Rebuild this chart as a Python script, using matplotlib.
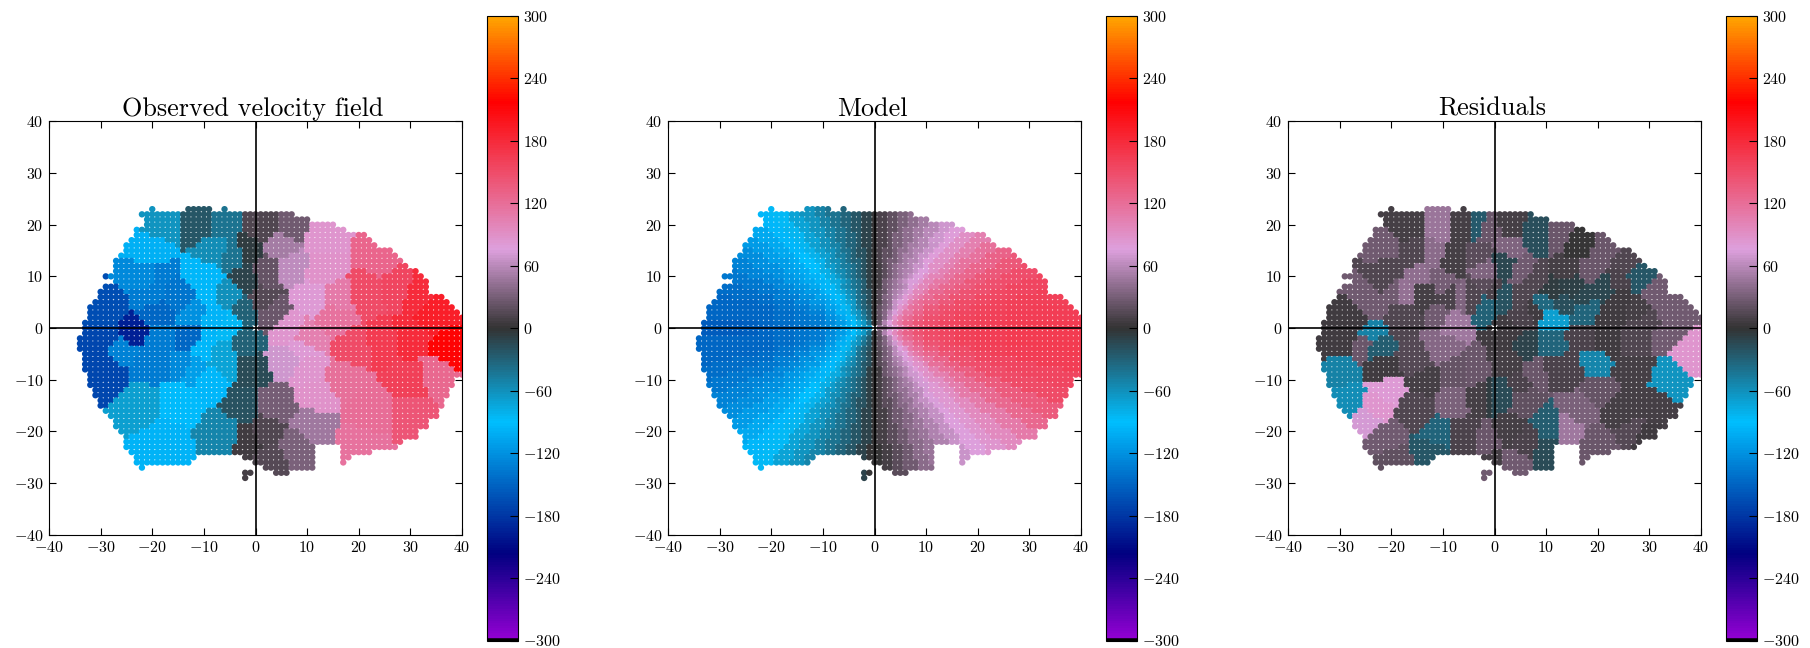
import numpy as np
import matplotlib
matplotlib.use("Agg")
import matplotlib.pyplot as plt
from matplotlib.colors import LinearSegmentedColormap

plt.rcParams['font.family'] = ['cmr10', 'DejaVu Serif']
plt.rcParams['mathtext.fontset'] = 'cm'
plt.rcParams['axes.formatter.use_mathtext'] = True
plt.rcParams['axes.unicode_minus'] = True

FIG_W, FIG_H = 1810, 648
titles = ["Observed velocity field", "Model", "Residuals"]
axis_ticks = [-40, -30, -20, -10, 0, 10, 20, 30, 40]
cbar_ticks = [-300, -240, -180, -120, -60, 0, 60, 120, 180, 240, 300]

# colour scale (velocity, colour)
cmap_vals = [-300, -217, -90, 0, 76, 218, 300]
cmap_cols = ['#9400d3', '#000080', '#00bfff', '#333333', '#dda0dd', '#ff0000', '#ffa500']

# footprint of the spaxels: row y, then the occupied x spans
row_y = list(range(23, -30, -1))
row_spans = [
    [(-20, -20), (-13, -9), (-6, -6)], [(-22, 7)], [(-21, 10)], [(-21, 15)], [(-23, 17)], [(-23, 21)],
    [(-24, 22)], [(-25, 23)], [(-25, 26)], [(-26, 27)], [(-27, 28)], [(-27, 29)], [(-27, 31)],
    [(-29, 32)], [(-27, 33)], [(-29, 33)], [(-30, 33)], [(-30, 36)], [(-31, 37)], [(-32, 38)],
    [(-32, 39)], [(-32, 40)], [(-33, 40)], [(-33, 40)], [(-33, 40)], [(-34, 40)], [(-34, 40)],
    [(-34, 40)], [(-33, 40)], [(-33, 40)], [(-33, 40)], [(-33, 40)], [(-32, 40)], [(-32, 38)],
    [(-32, 38)], [(-31, 37)], [(-31, 37)], [(-30, 36)], [(-30, 36)], [(-29, 35)], [(-28, 35)],
    [(-27, 33)], [(-27, 33)], [(-26, 31)], [(-25, 31)], [(-25, 28)], [(-25, 11), (17, 27)],
    [(-24, 11), (17, 22)], [(-23, -12), (-2, 11), (17, 18)], [(-23, -13), (0, 11), (17, 17)],
    [(-22, -22), (2, 11)], [(-2, -1), (4, 6)], [(-2, -2)],
]

# observed field: bin centre x, bin centre y, bin velocity
obs_x = [-18, -11, -6, 1, 7, 13, 24, 5, 7, 2, 11, 13, 1.5, 3, 16, 21, 28, 31, 35, 38, 30, 15, 6, 10,
         9, 12, 6, 10, 4, 11, 2, 8, 3, 17, 22, 20, 19, 30, 35, 30, 25,
         -29, -29, -22, -15, -18, -12, -20, -14, -10, -9, -6, -6, -1.5, -2, -7, -1, -2, -2,
         -24, -29, -19, -20, -15, -12, -8, -5, -18, -13, -26,
         -8, -4, -1.5, -20, -21, -19, -10, -9, -6, -2, -1.5]
obs_y = [20, 20, 20, 20, 20, 18, 14, 16, 12, 11, 6, 11, 5, 3, 6, 7, 8, 7, 3, -4, -2, 2, 0, -2,
         -4, -13, -6, -8, -15, -19, -20, -23, -26, -10, -16, -23, -4, -10, -9, -16, -3,
         -8, -2, -15, -14, -22, -8, -7, -7, -4, -10, -7, -21, -22, -15, -5, -8, -3, -28,
         -1, 3, 3, 6, 6, 3, 2, 0, -2, -2, -4,
         15, 14, 15, 15, 10, 10, 10, 6, 6, 10, 3]
obs_v = [-62, -22, -42, 12, 28, 85, 128, 50, 62, 22, 80, 88, 15, 25, 110, 150, 155, 180, 190, 215, 180, 115, 85, 105,
         82, 88, 70, 85, 30, 48, 12, 32, 15, 118, 120, 115, 150, 160, 125, 142, 165,
         -170, -170, -70, -92, -98, -112, -135, -125, -95, -95, -72, -52, 5, -20, -72, -15, -30, 8,
         -195, -165, -150, -135, -140, -120, -98, -85, -135, -150, -130,
         -58, -40, -5, -100, -125, -135, -95, -95, -60, -10, -30]

# model field: velocity per azimuth sector, read at the outer disk
azimuth_deg = list(range(-180, 180, 5))
model_outer = [-155, -150, -150, -145, -138, -130, -122, -113, -105, -95, -85, -72, -62, -52, -42, -32, -22, -10,
               0, 8, 18, 28, 38, 46, 56, 66, 76, 85, 95, 110, 125, 138, 150, 157, 162, 165,
               165, 163, 160, 155, 148, 140, 130, 118, 105, 92, 80, 70, 60, 52, 42, 32, 20, 10,
               0, -10, -22, -32, -42, -52, -62, -72, -85, -95, -105, -113, -122, -130, -138, -145, -150, -150]
# share of that velocity reached at each radius band (upper edge, right side, left side)
model_r_edge = [2, 3, 4, 5, 6, 8, 10, 13, 16, 20, 26, 60]
model_r_right = [0.25, 0.40, 0.52, 0.62, 0.70, 0.80, 0.87, 0.92, 0.95, 0.97, 0.99, 1.0]
model_r_left = [0.40, 0.50, 0.56, 0.62, 0.68, 0.76, 0.84, 0.90, 0.93, 0.96, 0.99, 1.0]

# residual field: bin centre x, bin centre y, bin velocity
res_x = [-17, -11, -6, -3.5, -1, -21, -16, -12, -8, -1.5, -3, -22, -20, -24, -17, -20, -15, -26, -24, -24, -29, -18,
         -14, -10, -8, -10, -9, -4, -7, -1.5, -2, -1,
         3, 8, 12, 16, 22, 25, 28, 31, 34, 38, 2, 3, 5, 8, 11, 11, 10, 18, 15, 21, 19, 14, 24, 28, 22, 6, 2, 3, 6, 11, 17, 22, 27, 33,
         19, 34, 27, 15, 16, 14, 25, 20, 31, 27, 29, 20, 11, 6, 10, 6, 1, 3, 5, 8, 12, 3, 4, -2,
         -31, -25, -23, -30, -28, -22, -23, -21, -20, -12, -11, -15, -8, -6, -1, 0, -15, -11, -13, -8, -4, -3, -1,
         -21, -25, 13, 8, 17, 24, 30, 5]
res_y = [20, 20, 20, 20, 19, 16, 14, 14, 13, 11, 14, 9, 7, 4, 7, 11, 10, 2, 7, -1, -1, 2,
         7, 9, 6, 2, 1.5, 6, 6, 5, 8, 7,
         20, 18, 18, 16, 15, 13, 10, 7, 2, -5, 12, 16, 11, 9, 7, 1.5, 5, 3, 8, 8, 11, 11, 5, 4, 2, 2, 6, -1, -3, -3, -2, -2, -2, -1,
         -7, -10, -8, -8, -16, -19, -16, -12, -15, -20, -21, -23, -19, -22, -24, -14, -13, -20, -11, -9, -8, -7, -26, -28,
         -3, -3, -3.5, -8, -14, -8, -15, -22, -25, -24, -21, -16, -14, -21, -22, -26, -6, -4, -10, -9, -9, -13, -13,
         -12, -18, 5, 3, 6, 9, 1, 6]
res_v = [8, 46, 8, -25, 24, 26, 13, 38, 8, 34, 18, 13, 26, 26, 44, 13, 40, 5, 28, -50, 5, 13,
         8, 30, 10, 26, 48, 13, 34, -30, 18, 10,
         8, -18, 25, 0, 24, 12, -22, 28, 28, 85, -12, 34, 28, 13, -5, -68, -35, -32, -8, -12, 24, 8, 5, 8, 5, 10, -20, 5, -10, -32, 10, 5, 13, 28,
         -52, -62, 8, 10, 32, 48, 8, 22, 8, 16, 5, 24, -28, 10, -15, 20, -15, 8, 10, 24, 10, 8, 26, 28,
         5, 25, -28, -50, -58, 5, 85, 28, 20, -22, -32, 13, 32, 10, 25, 8, 16, 36, 8, 22, 25, 8, -5,
         82, 72, -18, 5, -12, 10, 12, 13]

cmap = LinearSegmentedColormap.from_list(
    'velocity', [((v + 300) / 600, c) for v, c in zip(cmap_vals, cmap_cols)], N=256)

xs, ys = [], []
for y, spans in zip(row_y, row_spans):
    for a, b in spans:
        for x in range(a, b + 1):
            if not (x == 0 and y == 0):
                xs.append(x)
                ys.append(y)
xs = np.array(xs, float)
ys = np.array(ys, float)


def binned(bx, by, bv):
    bx, by, bv = np.array(bx, float), np.array(by, float), np.array(bv, float)
    d = (xs[:, None] - bx) ** 2 + (ys[:, None] - by) ** 2
    return bv[np.argmin(d, axis=1)]


def model_field():
    az = np.degrees(np.arctan2(ys, xs))
    idx = np.round((az + 180) / 5).astype(int) % 72
    r = np.hypot(xs, ys)
    band = np.searchsorted(model_r_edge, r)
    share = np.where(xs >= 0, np.array(model_r_right)[band], np.array(model_r_left)[band])
    return np.array(model_outer, float)[idx] * share


fields = [binned(obs_x, obs_y, obs_v), model_field(), binned(res_x, res_y, res_v)]

fig = plt.figure(figsize=(FIG_W / 100, FIG_H / 100), dpi=100, facecolor='white')


def box(l, t, r, b):
    return [l / FIG_W, 1 - b / FIG_H, (r - l) / FIG_W, (b - t) / FIG_H]


ax_lefts = [49, 668, 1288]
cb_lefts = [487, 1106, 1726]
for i in range(3):
    ax = fig.add_axes(box(ax_lefts[i], 121.3, ax_lefts[i] + 413, 534.8))
    sc = ax.scatter(xs, ys, c=fields[i], s=21, linewidths=0, cmap=cmap, vmin=-300, vmax=300, zorder=2)
    ax.axhline(0, color='k', lw=1.2, zorder=3)
    ax.axvline(0, color='k', lw=1.2, zorder=3)
    ax.set_xlim(-40, 40)
    ax.set_ylim(-40, 40)
    ax.set_xticks(axis_ticks)
    ax.set_yticks(axis_ticks)
    ax.tick_params(direction='in', top=True, right=True, length=5, width=0.8, labelsize=11.5, pad=4)
    ax.set_title(titles[i], fontsize=18.8, pad=4, x=0.494)
    cax = fig.add_axes(box(cb_lefts[i], 16, cb_lefts[i] + 30.5, 640.5))
    cb = fig.colorbar(sc, cax=cax, ticks=cbar_ticks)
    cb.ax.tick_params(direction='in', length=6, width=0.8, labelsize=11.5, pad=4)
    cb.ax.axhline(-300, color='k', lw=4)

fig.savefig('out.png', dpi=100)
